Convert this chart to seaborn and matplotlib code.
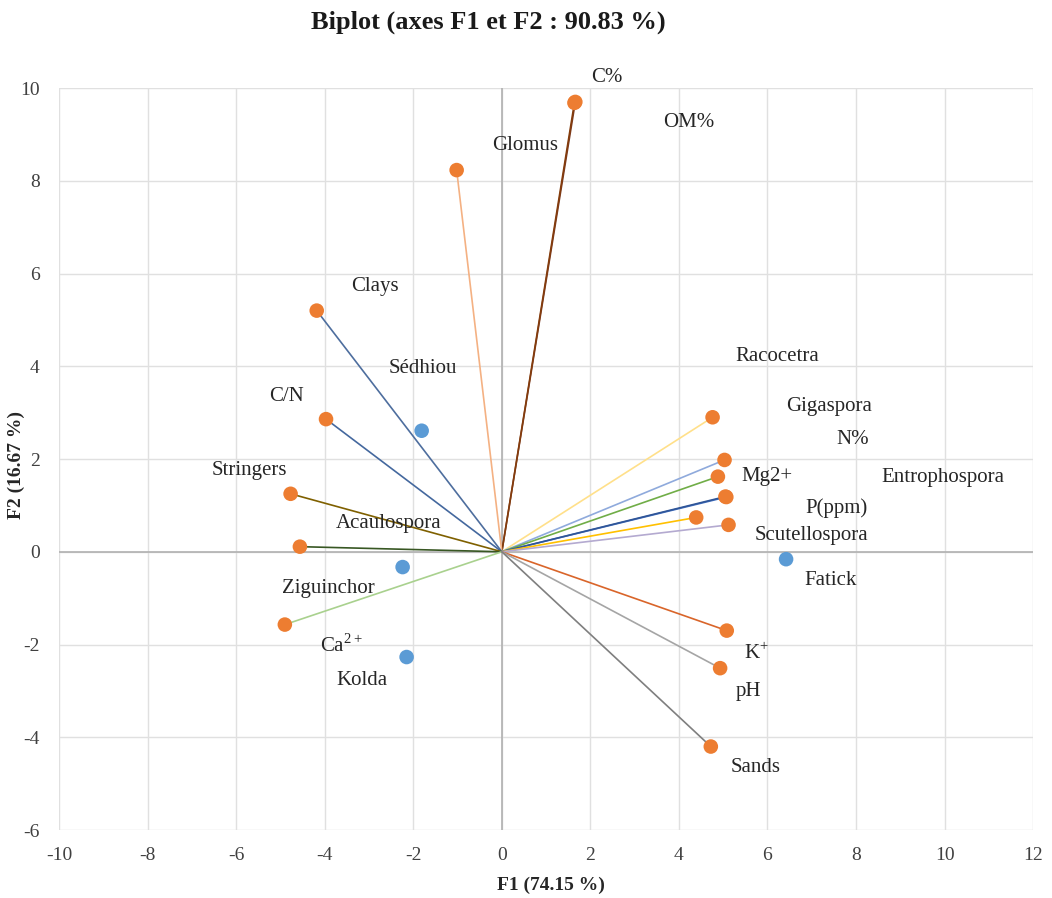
import matplotlib

matplotlib.use("Agg")

import matplotlib.pyplot as plt
import pandas as pd
import seaborn as sns

# variables (orange points, arrows from origin)
var_names = ["C%", "OM%", "Glomus", "Clays", "C/N", "Stringers", "Acaulospora", "Ca2+",
             "Racocetra", "Gigaspora", "Mg2+", "N%", "P(ppm)", "Entrophospora",
             "Scutellospora", "K+", "pH", "Sands"]
var_f1 = [1.66, 1.64, -1.02, -4.18, -3.97, -4.77, -4.56, -4.90,
          4.76, 5.03, 4.88, 5.07, 5.05, 4.39, 5.12, 5.08, 4.93, 4.72]
var_f2 = [9.70, 9.68, 8.23, 5.20, 2.86, 1.25, 0.11, -1.57,
          2.90, 1.98, 1.62, 1.18, 1.19, 0.74, 0.58, -1.70, -2.51, -4.20]
var_colors = ["#7b3b22", "#843c0c", "#f4b183", "#4e6e9e", "#44689e", "#7f6000", "#385723", "#a9d18e",
              "#ffe08a", "#8faadc", "#70ad47", "#4472c4", "#2f5597", "#ffc000",
              "#b4aad0", "#d9652a", "#a5a5a5", "#7f7f7f"]
# label anchors as placed in the original chart
var_label_f1 = [2.02, 3.64, -0.23, -3.40, -5.25, -6.56, -3.74, -4.10,
                5.27, 6.43, 5.42, 7.55, 6.85, 8.58, 5.72, 5.47, 5.29, 5.17]
var_label_f2 = [10.22, 9.25, 8.75, 5.72, 3.34, 1.76, 0.60, -2.03,
                4.22, 3.14, 1.63, 2.41, 0.94, 1.61, 0.36, -2.19, -3.02, -4.65]
var_display = {"Ca2+": "Ca$^{\\mathrm{2+}}$", "K+": "K$^{\\mathrm{+}}$"}

# observations (blue points)
site_names = ["Sédhiou", "Ziguinchor", "Kolda", "Fatick"]
site_f1 = [-1.81, -2.24, -2.15, 6.42]
site_f2 = [2.61, -0.33, -2.27, -0.16]
site_label_f1 = [-2.56, -4.97, -3.74, 6.83]
site_label_f2 = [3.96, -0.79, -2.77, -0.62]

x_ticks = list(range(-10, 13, 2))
y_ticks = list(range(-6, 11, 2))

variables = pd.DataFrame({"name": var_names, "F1": var_f1, "F2": var_f2})
sites = pd.DataFrame({"name": site_names, "F1": site_f1, "F2": site_f2})

sns.set_theme(style="white")
plt.rcParams["font.family"] = ["Liberation Serif", "DejaVu Serif"]
plt.rcParams["mathtext.fontset"] = "custom"
plt.rcParams["mathtext.rm"] = "Liberation Serif"
plt.rcParams["axes.unicode_minus"] = False

fig = plt.figure(figsize=(10.52, 8.98), dpi=100)
ax = fig.add_axes([0.0561, 0.0757, 0.926, 0.8263])

ax.set_xlim(-10, 12)
ax.set_ylim(-6, 10)
ax.set_xticks(x_ticks)
ax.set_yticks(y_ticks)
ax.grid(True, color="#e0e0e0", linewidth=1.0)
ax.set_axisbelow(True)
for spine in ax.spines.values():
    spine.set_visible(False)
ax.axhline(0, color="#b0b0b0", linewidth=1.2, zorder=1)
ax.axvline(0, color="#b0b0b0", linewidth=1.2, zorder=1)

for f1, f2, color in zip(var_f1, var_f2, var_colors):
    ax.plot([0, f1], [0, f2], color=color, linewidth=1.2, zorder=2)

sns.scatterplot(data=variables, x="F1", y="F2", color="#ed7d31", s=110,
                edgecolor="none", ax=ax, zorder=3)
sns.scatterplot(data=sites, x="F1", y="F2", color="#5b9bd5", s=110,
                edgecolor="none", ax=ax, zorder=3)

for name, lx, ly in zip(var_names, var_label_f1, var_label_f2):
    ax.text(lx, ly, var_display.get(name, name), fontsize=15, color="#262626",
            ha="left", va="center", zorder=4)
for name, lx, ly in zip(site_names, site_label_f1, site_label_f2):
    ax.text(lx, ly, name, fontsize=15, color="#262626", ha="left", va="center", zorder=4)

ax.tick_params(axis="both", length=0, labelsize=14, labelcolor="#404040")
ax.tick_params(axis="x", pad=12)
ax.tick_params(axis="y", pad=14)
ax.set_xlabel("")
ax.set_ylabel("")

fig.text(0.464, 0.975, "Biplot (axes F1 et F2 : 90.83 %)", fontsize=19, fontweight="bold",
         ha="center", va="center", color="#1a1a1a")
fig.text(0.524, 0.014, "F1 (74.15 %)", fontsize=14, fontweight="bold",
         ha="center", va="center", color="#262626")
fig.text(0.016, 0.482, "F2 (16.67 %)", fontsize=14, fontweight="bold", rotation=90,
         ha="center", va="center", color="#262626")

fig.savefig("out.png", dpi=100)
plt.close(fig)
